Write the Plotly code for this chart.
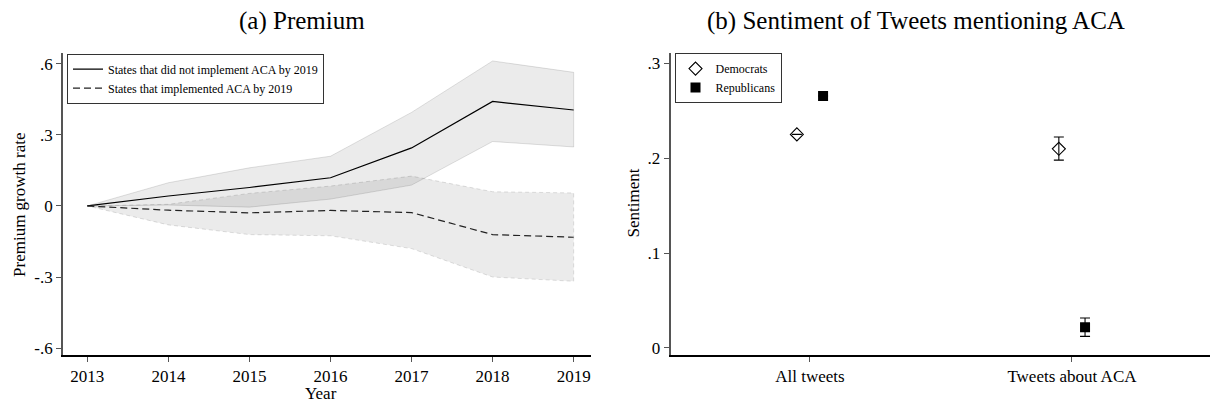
import plotly.graph_objects as go

# ---- Panel (a): premium growth rate by year ----
years = [2013, 2014, 2015, 2016, 2017, 2018, 2019]

not_impl = [0.0, 0.042, 0.078, 0.119, 0.245, 0.441, 0.405]
not_impl_hi = [0.0, 0.098, 0.161, 0.210, 0.395, 0.612, 0.564]
not_impl_lo = [0.0, 0.004, -0.005, 0.029, 0.088, 0.272, 0.249]

impl = [0.0, -0.018, -0.029, -0.019, -0.028, -0.121, -0.132]
impl_hi = [0.0, 0.007, 0.053, 0.084, 0.126, 0.060, 0.055]
impl_lo = [0.0, -0.080, -0.121, -0.126, -0.180, -0.300, -0.318]

left_tickvals = [0.6, 0.3, 0.0, -0.3, -0.6]
left_ticktext = [".6", ".3", "0", "-.3", "-.6"]

# ---- Panel (b): sentiment by party ----
groups = ["All tweets", "Tweets about ACA"]
dem_sent = [0.2252, 0.210]
dem_err_hi = [0.0, 0.0125]
dem_err_lo = [0.0, 0.012]
rep_sent = [0.2657, 0.0217]
rep_err_hi = [0.0, 0.0097]
rep_err_lo = [0.0, 0.0097]

right_tickvals = [0.3, 0.2, 0.1, 0.0]
right_ticktext = [".3", ".2", ".1", "0"]

SERIF = "Liberation Serif"
W, H = 1210, 405

fig = go.Figure()

band_fill = "rgba(0,0,0,0.08)"

# confidence bands as closed polygons
fig.add_trace(go.Scatter(
    x=years + years[::-1], y=not_impl_hi + not_impl_lo[::-1],
    fill="toself", fillcolor=band_fill, mode="lines",
    line=dict(color="rgba(0,0,0,0.12)", width=1),
    showlegend=False, hoverinfo="skip", xaxis="x", yaxis="y"))
fig.add_trace(go.Scatter(
    x=years + years[::-1], y=impl_hi + impl_lo[::-1],
    fill="toself", fillcolor=band_fill, mode="lines",
    line=dict(color="rgba(0,0,0,0.12)", width=1, dash="4px,3px"),
    showlegend=False, hoverinfo="skip", xaxis="x", yaxis="y"))

fig.add_trace(go.Scatter(
    x=years, y=not_impl, mode="lines",
    line=dict(color="black", width=1.2),
    name="States that did not implement ACA by 2019",
    legend="legend", xaxis="x", yaxis="y"))
fig.add_trace(go.Scatter(
    x=years, y=impl, mode="lines",
    line=dict(color="#222222", width=1.2, dash="7px,4px"),
    name="States that implemented ACA by 2019",
    legend="legend", xaxis="x", yaxis="y"))

# right panel points (numeric positions 1, 2 with party offsets)
pos = [1, 2]
off = 0.05
fig.add_trace(go.Scatter(
    x=[p - off for p in pos], y=dem_sent, mode="markers",
    marker=dict(symbol="diamond-open", size=10, color="black",
                line=dict(width=1.1, color="black")),
    error_y=dict(type="data", array=dem_err_hi, arrayminus=dem_err_lo,
                 color="black", thickness=1.1, width=5),
    name="Democrats", legend="legend2", xaxis="x2", yaxis="y2"))
fig.add_trace(go.Scatter(
    x=[p + off for p in pos], y=rep_sent, mode="markers",
    marker=dict(symbol="square", size=10, color="black"),
    error_y=dict(type="data", array=rep_err_hi, arrayminus=rep_err_lo,
                 color="black", thickness=1.1, width=5),
    name="Republicans", legend="legend2", xaxis="x2", yaxis="y2"))

ybot, ytop = 1 - 358 / H, 1 - 53 / H
tickfont = dict(family=SERIF, size=17, color="black")

axis_common = dict(showgrid=False, zeroline=False, showline=True,
                   ticks="outside", ticklen=5, tickcolor="#555555",
                   tickwidth=1.2, tickfont=tickfont, mirror=False)

fig.update_layout(
    width=W, height=H,
    margin=dict(l=0, r=0, t=0, b=0),
    paper_bgcolor="white", plot_bgcolor="white",
    xaxis=dict(domain=[63 / W, 590.7 / W], range=[2012.70, 2019.21],
               tickvals=years, linecolor="black", linewidth=1.5,
               anchor="y", **axis_common),
    yaxis=dict(domain=[ybot, ytop], range=[-0.6306, 0.6473],
               tickvals=left_tickvals, ticktext=left_ticktext,
               linecolor="#555555", linewidth=1.8, anchor="x",
               **axis_common),
    xaxis2=dict(domain=[670.6 / W, 1.0], range=[0.468, 2.527],
                tickvals=pos, ticktext=groups, linecolor="black",
                linewidth=1.5, anchor="y2", **axis_common),
    yaxis2=dict(domain=[ybot, ytop], range=[-0.008, 0.3115],
                tickvals=right_tickvals, ticktext=right_ticktext,
                linecolor="#555555", linewidth=1.8, anchor="x2",
                **axis_common),
    legend=dict(x=67 / W, y=1 - 54 / H, xanchor="left", yanchor="top",
                bgcolor="white", bordercolor="#333333", borderwidth=1,
                font=dict(family=SERIF, size=12, color="black"),
                tracegroupgap=0, itemwidth=30),
    legend2=dict(x=674.5 / W, y=1 - 53.5 / H, xanchor="left", yanchor="top",
                 bgcolor="white", bordercolor="#333333", borderwidth=1,
                 font=dict(family=SERIF, size=12, color="black"),
                 tracegroupgap=0, itemwidth=30),
    showlegend=True,
)

annotations = [
    dict(text="(a) Premium", x=302 / W, y=1 - 21 / H, size=25),
    dict(text="(b) Sentiment of Tweets mentioning ACA", x=916 / W, y=1 - 21 / H, size=25),
    dict(text="Year", x=321 / W, y=1 - 396.5 / H, size=17),
]
for a in annotations:
    fig.add_annotation(text=a["text"], x=a["x"], y=a["y"], xref="paper", yref="paper",
                       xanchor="center", yanchor="middle", showarrow=False,
                       font=dict(family=SERIF, size=a["size"], color="black"))

fig.add_annotation(text="Premium growth rate", x=19.5 / W, y=1 - 207 / H,
                   xref="paper", yref="paper", xanchor="center", yanchor="middle",
                   textangle=-90, showarrow=False,
                   font=dict(family=SERIF, size=17, color="black"))
fig.add_annotation(text="Sentiment", x=633 / W, y=1 - 205 / H,
                   xref="paper", yref="paper", xanchor="center", yanchor="middle",
                   textangle=-90, showarrow=False,
                   font=dict(family=SERIF, size=17, color="black"))

fig.write_html("out.html")
